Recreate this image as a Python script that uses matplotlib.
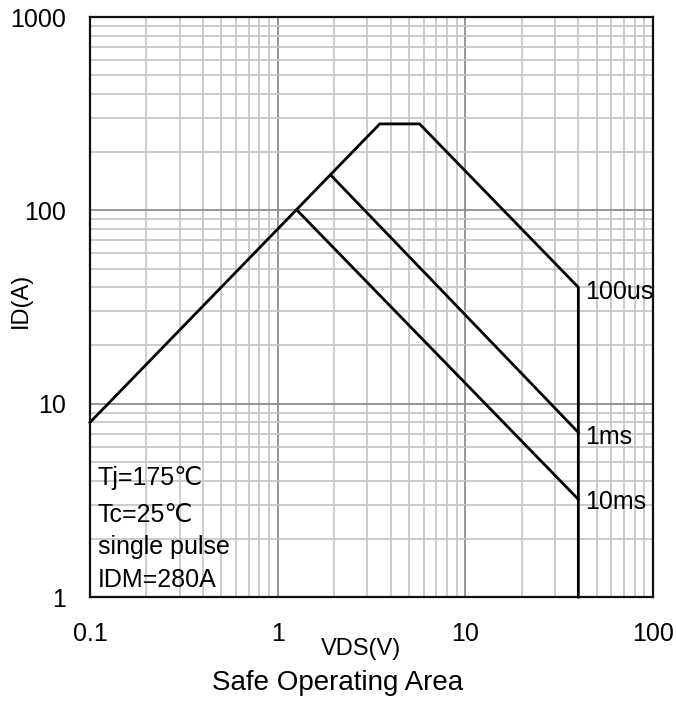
import matplotlib
matplotlib.use('Agg')
import matplotlib.pyplot as plt
from matplotlib.ticker import LogLocator, NullFormatter, FixedLocator

plt.rcParams['font.family'] = ['Liberation Sans', 'DejaVu Sans']

# SOA limit curves (VDS in V, ID in A)
v_100us = [0.1, 3.5, 5.7, 40, 40]
i_100us = [8, 280, 280, 40, 1]
v_1ms = [1.92, 40]
i_1ms = [152, 7.1]
v_10ms = [1.27, 40]
i_10ms = [100, 3.2]

curve_labels = ['100us', '1ms', '10ms']
label_v = [43.5, 43.5, 43.5]
label_i = [38, 6.7, 3.1]

notes = ['Tj=175\u2103', 'Tc=25\u2103', 'single pulse', 'IDM=280A']
note_y = [0.205, 0.141, 0.086, 0.029]

xticks = [0.1, 1, 10, 100]
xtick_labels = ['0.1', '1', '10', '100']
yticks = [1, 10, 100, 1000]
ytick_labels = ['1', '10', '100', '1000']

fig = plt.figure(figsize=(6.76, 7.18), dpi=100)
ax = fig.add_axes([0.1331, 0.1685, 0.8329, 0.8078])
ax.set_xscale('log')
ax.set_yscale('log')
ax.set_xlim(0.1, 100)
ax.set_ylim(1, 1000)

ax.xaxis.set_major_locator(FixedLocator(xticks))
ax.yaxis.set_major_locator(FixedLocator(yticks))
ax.set_xticklabels(xtick_labels)
ax.set_yticklabels(ytick_labels)
ax.xaxis.set_minor_locator(LogLocator(base=10, subs=range(2, 10)))
ax.yaxis.set_minor_locator(LogLocator(base=10, subs=range(2, 10)))
ax.xaxis.set_minor_formatter(NullFormatter())
ax.yaxis.set_minor_formatter(NullFormatter())
ax.tick_params(which='both', length=0, labelsize=18)
ax.tick_params(axis='x', pad=18)
ax.tick_params(axis='y', pad=17)

ax.grid(True, which='major', color='#8c8c8c', linewidth=1.3)
ax.grid(True, which='minor', color='#c4c4c4', linewidth=1.2)
ax.set_axisbelow(True)
for s in ax.spines.values():
    s.set_linewidth(1.6)
    s.set_color('#111111')

for v, i in [(v_100us, i_100us), (v_1ms, i_1ms), (v_10ms, i_10ms)]:
    ax.plot(v, i, color='black', linewidth=2.0, clip_on=False,
            solid_joinstyle='miter')

for lab, x, y in zip(curve_labels, label_v, label_i):
    ax.text(x, y, lab, fontsize=18, ha='left', va='center')

for txt, y in zip(notes, note_y):
    ax.text(0.014, y, txt, transform=ax.transAxes, fontsize=18,
            ha='left', va='center')

ax.set_xlabel('VDS(V)', fontsize=17)
ax.set_ylabel('ID(A)', fontsize=17)
ax.xaxis.set_label_coords(0.481, -0.071)
ax.yaxis.set_label_coords(-0.104, 0.512)
fig.text(0.5, 0.049, 'Safe Operating Area', fontsize=20,
         ha='center', va='center')

fig.savefig('out.png', dpi=100)
